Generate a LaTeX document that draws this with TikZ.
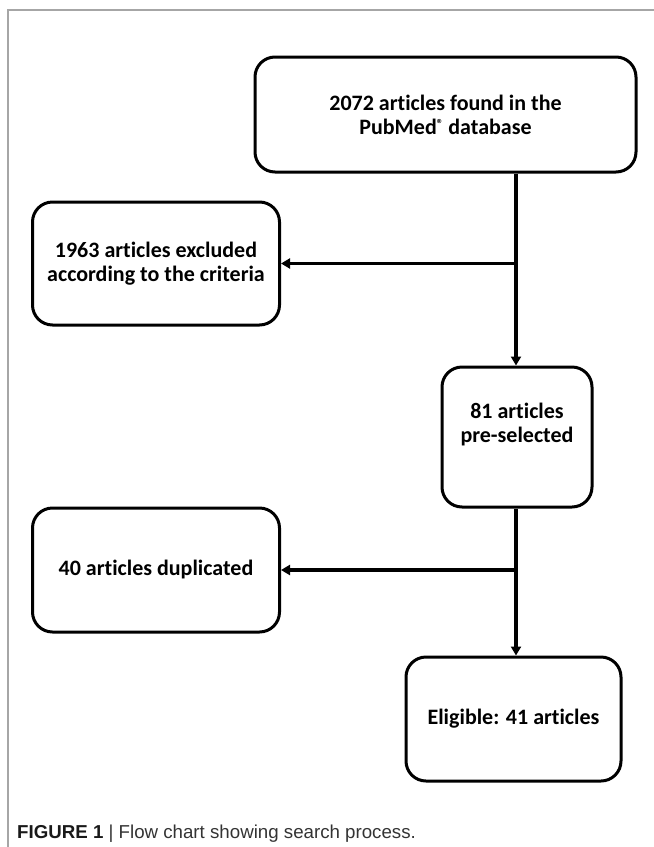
\documentclass[tikz,border=0pt]{standalone}
\usepackage{fontspec}
\setmainfont{Carlito}[Ligatures={NoCommon,NoRequired,NoContextual}]
\newfontfamily\captionfont{Liberation Sans}
\usetikzlibrary{arrows.meta}

\tikzset{
  flowbox/.style={rectangle,rounded corners=20pt,draw=black,line width=3pt,fill=white,
    text=black,align=center,font=\fontsize{22}{24}\selectfont\bfseries,inner sep=0pt},
  flowline/.style={draw=black,line width=3.2pt,-{Triangle[length=9pt,width=10pt]}},
}
\newcommand{\regmark}{\raisebox{6pt}{\fontsize{13}{13}\selectfont ®}}

\begin{document}
\begin{tikzpicture}[x=1pt,y=-1pt]
\useasboundingbox (0,0) rectangle (654,847);
% frame of the figure
\draw[draw=black!35,line width=1.2pt] (8,847) -- (8,10) -- (654,10);
% boxes
\node[flowbox,minimum width=381pt,minimum height=115pt] (found) at (445.5,114.5) {2072 articles found in the\\PubMed\regmark\ database};
\node[flowbox,minimum width=247pt,minimum height=123pt] (excluded) at (156,263.5) {1963 articles excluded\\according to the criteria};
\node[flowbox,minimum width=150pt,minimum height=140pt] (preselected) at (517,437) {81 articles\\pre-selected\\[4pt]};
\node[flowbox,minimum width=247pt,minimum height=124pt] (duplicated) at (156,570) {40 articles duplicated};
\node[flowbox,minimum width=215pt,minimum height=124pt] (eligible) at (513.5,719) {Eligible: 41 articles};
% connectors
\coordinate (split1) at (516,263.5);
\coordinate (split2) at (516,570);
\draw[flowline] (found.south -| split1) -- (preselected.north -| split1);
\draw[flowline] (split1) -- (excluded.east);
\draw[flowline] (preselected.south -| split2) -- (eligible.north -| split2);
\draw[flowline] (split2) -- (duplicated.east);
% caption
\node[anchor=base west,inner sep=0pt,font=\captionfont\fontsize{18.7}{22}\selectfont,text=black!80] (caption) at (17,838)
  {\textcolor{black!90}{\textbf{FIGURE 1}} | Flow chart showing search process.};
\end{tikzpicture}
\end{document}
